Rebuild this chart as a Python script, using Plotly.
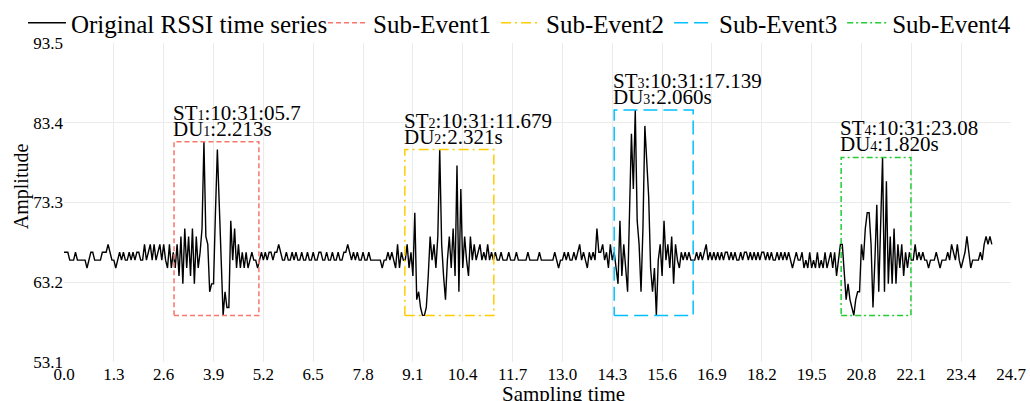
import numpy as np
import plotly.graph_objects as go

SAMPLE_INTERVAL = 0.05  # seconds between RSSI samples

# RSSI amplitude, one row per second (20 samples / s)
RSSI = [
    67,67,67,66,66,66,67,66,66,66,66,66,65,66,67,67,66,66,66,66,
    67,67,67,68,67,66,66,65,66,67,66,67,66,66,67,66,67,66,67,67,
    66,66,68,66,67,68,66,68,66,67,68,66,68,66,65,68,65,67,65,68,
    64,69,63,70,65,69,64,70,63,69,65,67,70,81,69,68,62,63,63,72,
    80,73,65,59,62,60,60,71,66,70,65,68,65,67,65,67,65,66,67,66,
    66,65,66,67,66,67,66,67,67,66,67,67,68,67,66,66,67,66,66,67,
    66,67,66,66,67,66,66,67,66,66,67,66,66,67,67,66,66,67,66,66,
    67,66,66,67,66,66,67,67,68,67,66,67,66,67,66,66,67,66,66,67,
    66,66,66,66,66,66,65,66,66,67,66,67,66,65,68,65,67,66,66,68,
    65,67,64,72,61,62,60,59,59,60,64,69,66,68,65,69,80,68,64,61,
    66,69,65,70,64,78,62,75,65,69,66,64,69,66,68,66,67,68,66,67,
    66,68,66,67,66,67,66,66,67,66,66,66,67,66,66,66,67,66,66,66,
    66,66,67,66,66,66,66,66,67,66,66,66,66,66,66,66,67,66,65,66,
    66,67,66,67,66,66,67,66,67,68,66,67,66,65,67,66,67,66,70,67,
    67,68,66,67,65,68,66,67,65,63,71,64,68,65,62,72,82,75,85,71,
    68,62,70,83,79,74,65,62,65,59,66,68,64,71,66,68,65,69,63,68,
    66,65,67,66,67,66,67,66,66,66,67,66,67,66,67,68,66,67,66,67,
    66,67,66,67,66,67,67,66,67,66,67,66,66,67,66,67,67,66,67,66,
    67,66,67,66,67,67,66,67,66,67,66,66,67,66,67,66,67,66,67,66,
    65,66,67,66,66,67,65,66,65,67,65,66,65,67,65,66,65,67,65,66,
    67,65,67,64,66,68,68,65,61,63,61,60,59,61,62,62,68,66,70,72,
    72,68,60,66,73,62,70,79,62,76,63,69,63,70,63,68,65,68,64,67,
    65,67,66,66,68,66,67,66,67,66,66,65,66,66,66,67,66,65,66,66,
    66,67,66,68,67,66,68,66,65,66,67,69,67,65,66,66,66,66,67,66,
    68,69,68,69,68,
]

EVENT_NAMES = ["Sub-Event1", "Sub-Event2", "Sub-Event3", "Sub-Event4"]
EVENT_START = [2.87, 8.89, 14.35, 20.27]          # seconds on the x axis
EVENT_DURATION = [2.213, 2.321, 2.060, 1.820]     # seconds
EVENT_ST_LABEL = ["10:31:05.7", "10:31:11.679", "10:31:17.139", "10:31:23.08"]
EVENT_DU_LABEL = ["2.213s", "2.321s", "2.060s", "1.820s"]
EVENT_COLORS = ["#F8766D", "#FFCC00", "#00BFFF", "#22CC33"]
EVENT_DASH = ["5px,3px", "10px,4px,2px,4px", "14px,6px", "6px,3px,2px,3px"]

X_TICKS = [0.0, 1.3, 2.6, 3.9, 5.2, 6.5, 7.8, 9.1, 10.4, 11.7, 13.0, 14.3,
           15.6, 16.9, 18.2, 19.5, 20.8, 22.1, 23.4, 24.7]
X_TICK_TEXT = ["0.0", "1.3", "2.6", "3.9", "5.2", "6.5", "7.8", "9.1", "10.4",
               "11.7", "13.0", "14.3", "15.6", "16.9", "18.2", "19.5", "20.8",
               "22.1", "23.4", "24.7"]
Y_TICKS = [53.1, 63.2, 73.3, 83.4, 93.5]
Y_TICK_TEXT = ["53.1", "63.2", "73.3", "83.4", "93.5"]

FONT = "Liberation Serif, Times New Roman, serif"

y = np.array(RSSI, dtype=float)
t = np.arange(len(y)) * SAMPLE_INTERVAL

fig = go.Figure()
fig.add_trace(go.Scatter(
    x=t, y=y, mode="lines", name="Original RSSI time series",
    line=dict(color="black", width=1.4), legend="legend",
))

for i, name in enumerate(EVENT_NAMES):
    x0 = EVENT_START[i]
    x1 = x0 + EVENT_DURATION[i]
    mask = (t >= x0) & (t <= x1)
    lo, hi = y[mask].min(), y[mask].max()
    fig.add_trace(go.Scatter(
        x=[x0, x1, x1, x0, x0], y=[lo, lo, hi, hi, lo],
        mode="lines", name=name, legend="legend2",
        line=dict(color=EVENT_COLORS[i], width=1.5, dash=EVENT_DASH[i]),
    ))
    n = i + 1
    fig.add_annotation(
        x=x0, y=hi, xref="x", yref="y", xanchor="left", yanchor="bottom",
        text=f"DU<span style='font-size:14px'>{n}</span>:{EVENT_DU_LABEL[i]}",
        showarrow=False, xshift=-3, yshift=-1,
        font=dict(family=FONT, size=21, color="black"),
    )
    fig.add_annotation(
        x=x0, y=hi, xref="x", yref="y", xanchor="left", yanchor="bottom",
        text=f"ST<span style='font-size:14px'>{n}</span>:{EVENT_ST_LABEL[i]}",
        showarrow=False, xshift=-3, yshift=15,
        font=dict(family=FONT, size=21, color="black"),
    )

fig.add_annotation(
    text="Amplitude", x=-0.0454, y=0.551, xref="paper", yref="paper",
    textangle=-90, showarrow=False, xanchor="center", yanchor="middle",
    font=dict(family=FONT, size=20, color="black"),
)
fig.add_annotation(
    text="Sampling time", x=0.5276, y=-0.056, xref="paper", yref="paper",
    showarrow=False, xanchor="center", yanchor="top",
    font=dict(family=FONT, size=21, color="black"),
)

legend_common = dict(
    orientation="h", xanchor="left", xref="container",
    y=1.0, yanchor="top", yref="container",
    font=dict(family=FONT, size=25, color="black"),
    tracegroupgap=0, bgcolor="rgba(0,0,0,0)",
)

fig.update_layout(
    width=1030, height=401,
    margin=dict(l=64, r=19, t=43, b=39, autoexpand=False),
    paper_bgcolor="white", plot_bgcolor="white",
    font=dict(family=FONT, color="black"),
    showlegend=True,
    legend=dict(x=0.0223, itemwidth=38, **legend_common),
    legend2=dict(x=0.3136, itemwidth=40, **legend_common),
)
fig.update_xaxes(
    range=[0, 24.7], tickvals=X_TICKS, ticktext=X_TICK_TEXT,
    showgrid=True, gridcolor="#EBEBEB", gridwidth=1, zeroline=False,
    showline=False, ticks="", tickfont=dict(family=FONT, size=17, color="black"),
)
fig.update_yaxes(
    range=[53.1, 93.5], tickvals=Y_TICKS, ticktext=Y_TICK_TEXT,
    showgrid=True, gridcolor="#EBEBEB", gridwidth=1, zeroline=False,
    showline=False, ticks="", ticklabelstandoff=0,
    tickfont=dict(family=FONT, size=17, color="black"),
)

fig.write_html("out.html")
